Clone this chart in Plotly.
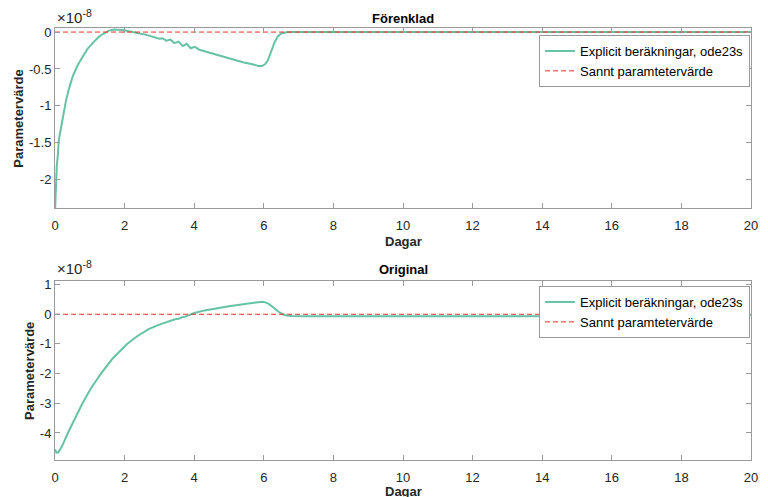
import plotly.graph_objects as go

# Parameter estimates in units of 1e-8, sampled along the time axis (days)
days_simplified = [0.0, 0.02, 0.05, 0.08, 0.11, 0.18, 0.25, 0.32, 0.40, 0.51, 0.65, 0.79, 0.93,
                   1.08, 1.27, 1.40, 1.55, 1.70, 1.84, 2.00, 2.12, 2.20, 2.40, 2.60, 2.80, 2.90,
                   3.00, 3.07, 3.13, 3.20, 3.31, 3.43, 3.55, 3.67, 3.78, 3.90, 4.02, 4.15, 4.30,
                   4.60, 5.00, 5.40, 5.70, 5.85, 5.95, 6.05, 6.12, 6.20, 6.30, 6.40, 6.50, 6.65,
                   6.80, 10.0, 15.0, 20.0]
param_simplified = [-2.45, -2.10, -1.82, -1.68, -1.46, -1.28, -1.08, -0.92, -0.77, -0.60, -0.45,
                    -0.33, -0.23, -0.15, -0.06, -0.02, 0.02, 0.035, 0.035, 0.025, 0.01, 0.005,
                    -0.015, -0.035, -0.06, -0.07, -0.09, -0.085, -0.095, -0.12, -0.10, -0.15,
                    -0.13, -0.19, -0.16, -0.22, -0.20, -0.24, -0.26, -0.30, -0.36, -0.41, -0.44,
                    -0.46, -0.46, -0.43, -0.38, -0.28, -0.15, -0.06, -0.02, -0.003, 0.0, 0.0,
                    0.0, 0.0]

days_original = [0.0, 0.04, 0.10, 0.20, 0.37, 0.58, 0.79, 1.03, 1.32, 1.65, 2.07, 2.35, 2.69,
                 3.00, 3.15, 3.30, 3.40, 3.45, 3.55, 3.65, 3.75, 3.85, 4.00, 4.30, 4.60, 5.00,
                 5.30, 5.60, 5.85, 5.95, 6.05, 6.15, 6.25, 6.35, 6.45, 6.55, 6.65, 6.80, 7.20,
                 10.0, 15.0, 19.5, 19.8, 20.0]
param_original = [-4.55, -4.66, -4.65, -4.45, -4.00, -3.50, -3.00, -2.50, -2.00, -1.50, -1.00,
                  -0.75, -0.50, -0.35, -0.29, -0.22, -0.20, -0.17, -0.15, -0.10, -0.08, -0.03,
                  0.04, 0.13, 0.20, 0.27, 0.32, 0.37, 0.41, 0.42, 0.40, 0.34, 0.25, 0.15, 0.06,
                  0.0, -0.04, -0.06, -0.065, -0.07, -0.07, -0.07, -0.05, -0.02]

true_days = [0, 20]
true_value = [0, 0]

x_ticks = [0, 2, 4, 6, 8, 10, 12, 14, 16, 18, 20]
y_ticks_top = [0, -0.5, -1, -1.5, -2]
y_ticks_top_text = ["0", "-0.5", "-1", "-1.5", "-2"]
y_ticks_bottom = [1, 0, -1, -2, -3, -4]
y_ticks_bottom_text = ["1", "0", "-1", "-2", "-3", "-4"]

TEAL = "#66c2a5"
RED = "#ff2a2a"
AXIS_GREY = "#9a9a9a"
TEXT = "#262626"
FONT = "Liberation Sans, Arial, sans-serif"

fig = go.Figure()

fig.add_trace(go.Scatter(x=days_simplified, y=param_simplified, mode="lines",
                         line=dict(color=TEAL, width=2),
                         name="Explicit beräkningar, ode23s",
                         xaxis="x", yaxis="y", legend="legend"))
fig.add_trace(go.Scatter(x=true_days, y=true_value, mode="lines",
                         line=dict(color=RED, width=1, dash="5px,3px"),
                         name="Sannt paramtetervärde",
                         xaxis="x", yaxis="y", legend="legend"))
fig.add_trace(go.Scatter(x=days_original, y=param_original, mode="lines",
                         line=dict(color=TEAL, width=2),
                         name="Explicit beräkningar, ode23s",
                         xaxis="x2", yaxis="y2", legend="legend2"))
fig.add_trace(go.Scatter(x=true_days, y=true_value, mode="lines",
                         line=dict(color=RED, width=1, dash="5px,3px"),
                         name="Sannt paramtetervärde",
                         xaxis="x2", yaxis="y2", legend="legend2"))

axis_common = dict(showline=True, linecolor=AXIS_GREY, linewidth=1, mirror="ticks",
                   ticks="inside", ticklen=5, tickcolor=AXIS_GREY, showgrid=False,
                   zeroline=False, tickfont=dict(family=FONT, size=13, color=TEXT))

L, R, T, B = 55, 10, 28, 37
W, H = 768, 497
PW, PH = W - L - R, H - T - B


def px(xp):
    return (xp - L) / PW


def py(yp):
    return (H - B - yp) / PH


legend_style = dict(xanchor="right", yanchor="top", bgcolor="white",
                    bordercolor=AXIS_GREY, borderwidth=1, tracegroupgap=0,
                    font=dict(family=FONT, size=13, color="black"))

fig.update_layout(
    width=W, height=H,
    margin=dict(l=L, r=R, t=T, b=B),
    paper_bgcolor="white", plot_bgcolor="white",
    font=dict(family=FONT, color=TEXT),
    xaxis=dict(domain=[0, 1], anchor="y", range=[0, 20], tickvals=x_ticks,
               ticklabelstandoff=5, **axis_common),
    yaxis=dict(domain=[py(208), 1], anchor="x", range=[-2.385, 0.055],
               tickvals=y_ticks_top, ticktext=y_ticks_top_text, **axis_common),
    xaxis2=dict(domain=[0, 1], anchor="y2", range=[0, 20], tickvals=x_ticks,
                ticklabelstandoff=5, **axis_common),
    yaxis2=dict(domain=[0, py(281)], anchor="x2", range=[-4.91, 1.12],
                tickvals=y_ticks_bottom, ticktext=y_ticks_bottom_text, **axis_common),
    legend=dict(x=px(757), y=py(35), **legend_style),
    legend2=dict(x=px(757), y=py(286), **legend_style),
    showlegend=True,
)

annotations = [
    dict(text="<b>Förenklad</b>", x=0.5, y=py(18), xanchor="center", yanchor="middle",
         font=dict(size=13, color="black")),
    dict(text="<b>Original</b>", x=0.5, y=py(269), xanchor="center", yanchor="middle",
         font=dict(size=13, color="black")),
    dict(text="<b>Dagar</b>", x=0.5, y=py(241), xanchor="center", yanchor="middle",
         font=dict(size=13, color=TEXT)),
    dict(text="<b>Dagar</b>", x=0.5, y=py(492), xanchor="center", yanchor="middle",
         font=dict(size=13, color=TEXT)),
    dict(text="<b>Parametervärde</b>", x=px(17.3), y=py(119), xanchor="center",
         yanchor="middle", textangle=-90, font=dict(size=13, color=TEXT)),
    dict(text="<b>Parametervärde</b>", x=px(28.7), y=py(371), xanchor="center",
         yanchor="middle", textangle=-90, font=dict(size=13, color=TEXT)),
    dict(text="×10<sup>-8</sup>", x=0, y=py(28), xanchor="left", yanchor="bottom",
         font=dict(size=15, color=TEXT)),
    dict(text="×10<sup>-8</sup>", x=0, y=py(279), xanchor="left", yanchor="bottom",
         font=dict(size=15, color=TEXT)),
]
for a in annotations:
    a.update(xref="paper", yref="paper", showarrow=False)
fig.update_layout(annotations=annotations)

fig.write_html("out.html")
